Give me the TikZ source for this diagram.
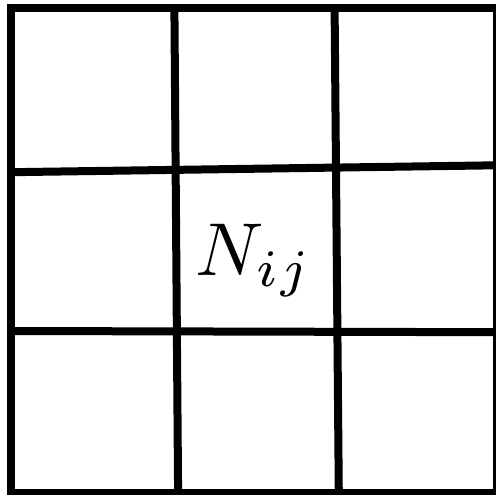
\documentclass[tikz,border=0pt]{standalone}
\usetikzlibrary{positioning}
\begin{document}
\begin{tikzpicture}[x=1pt, y=-1pt, line width=8pt]
    \useasboundingbox (0,0) rectangle (496,495);
    \clip (0,0) rectangle (496,495);
    \coordinate (tl) at (11.3, 8.3);
    \coordinate (tr) at (496.7, 8.3);
    \coordinate (br) at (496.7, 493.3);
    \coordinate (bl) at (11.3, 493.3);
    \coordinate (top1) at (174.4, 8.3);
    \coordinate (bot1) at (178.1, 493.3);
    \coordinate (top2) at (334.6, 8.3);
    \coordinate (bot2) at (338.8, 493.3);
    \coordinate (left1) at (11.3, 172.2);
    \coordinate (right1) at (496.7, 165.3);
    \coordinate (left2) at (11.3, 331.0);
    \coordinate (right2) at (496.7, 332.2);
    \draw[] (tl) -- (tr) -- (br) -- (bl) -- cycle;
    \draw[] (top1) -- (bot1);
    \draw[] (top2) -- (bot2);
    \draw[] (left1) -- (right1);
    \draw[] (left2) -- (right2);
    \node[anchor=base, scale=7.5, inner sep=0pt] (nij) at (254, 275) {$N_{i\mkern1mu j}$};
\end{tikzpicture}
\end{document}
